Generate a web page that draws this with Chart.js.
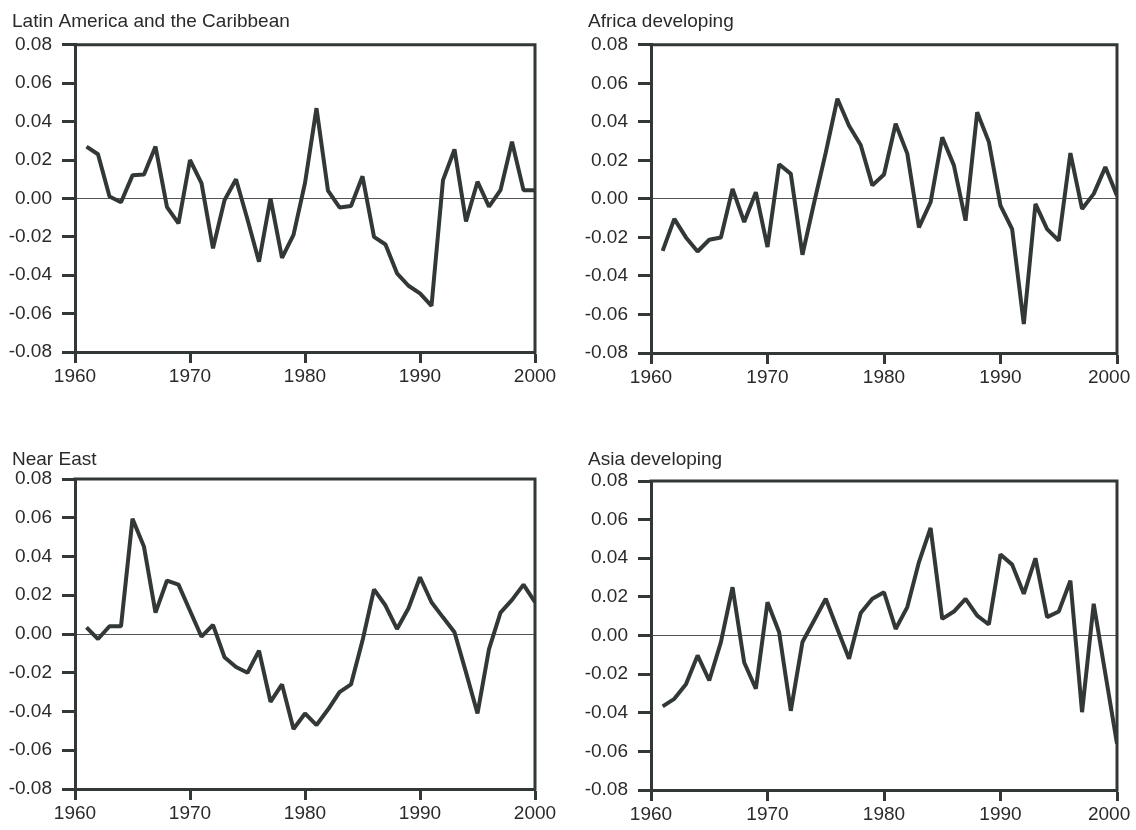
<!DOCTYPE html>
<html>
<head>
<meta charset="utf-8">
<script src="https://cdn.jsdelivr.net/npm/chart.js@4.4.1/dist/chart.umd.min.js"></script>
<style>
  body { margin: 0; background: #fff; overflow: hidden; }
  canvas { position: absolute; }
</style>
</head>
<body>
<canvas id="latin" width="568" height="415" style="left:0px;top:0px"></canvas>
<canvas id="africa" width="560" height="415" style="left:576px;top:0px"></canvas>
<canvas id="neareast" width="568" height="392" style="left:0px;top:438px"></canvas>
<canvas id="asia" width="560" height="392" style="left:576px;top:438px"></canvas>
<script>
// Years on the x axis
const years = [1961, 1962, 1963, 1964, 1965, 1966, 1967, 1968, 1969, 1970,
               1971, 1972, 1973, 1974, 1975, 1976, 1977, 1978, 1979, 1980,
               1981, 1982, 1983, 1984, 1985, 1986, 1987, 1988, 1989, 1990,
               1991, 1992, 1993, 1994, 1995, 1996, 1997, 1998, 1999, 2000];

// Values
const latinAmerica = [0.027, 0.023, 0.001, -0.002, 0.012, 0.0125, 0.027, -0.0045, -0.013, 0.020,
                      0.008, -0.026, -0.001, 0.010, -0.011, -0.033, 0.000, -0.031, -0.019, 0.008,
                      0.047, 0.004, -0.0047, -0.004, 0.0115, -0.020, -0.024, -0.039, -0.0455, -0.0495,
                      -0.056, 0.0095, 0.0255, -0.012, 0.0087, -0.0043, 0.0043, 0.0295, 0.0043, 0.0043];
const africa = [-0.027, -0.0104, -0.020, -0.0273, -0.0212, -0.020, 0.0052, -0.012, 0.0035, -0.025,
                0.018, 0.013, -0.029, -0.002, 0.024, 0.052, 0.038, 0.028, 0.007, 0.0127,
                0.039, 0.0235, -0.0148, -0.0017, 0.032, 0.0174, -0.0113, 0.045, 0.0296, -0.0035,
                -0.0157, -0.065, -0.0026, -0.0157, -0.0217, 0.0238, -0.0052, 0.0026, 0.0165, 0.0017];
const nearEast = [0.0034, -0.0026, 0.004, 0.004, 0.0595, 0.045, 0.011, 0.0276, 0.0255, 0.012,
                  -0.0014, 0.0047, -0.012, -0.017, -0.020, -0.0086, -0.035, -0.026, -0.049, -0.041,
                  -0.047, -0.039, -0.030, -0.026, -0.0034, 0.023, 0.0147, 0.0026, 0.0133, 0.0293,
                  0.0164, 0.0086, 0.0009, -0.0198, -0.041, -0.0078, 0.011, 0.0176, 0.0255, 0.0164];
const asia = [-0.0367, -0.0328, -0.0253, -0.0103, -0.0233, -0.0034, 0.025, -0.014, -0.0276, 0.0172,
              0.0017, -0.039, -0.0034, 0.0078, 0.019, 0.0034, -0.012, 0.0116, 0.019, 0.0224,
              0.0034, 0.0147, 0.038, 0.0557, 0.0086, 0.0124, 0.019, 0.0103, 0.0057, 0.042,
              0.0367, 0.0216, 0.040, 0.0095, 0.0124, 0.0284, -0.0397, 0.0164, -0.0198, -0.056];

// Tick labels
const xTicks = [1960, 1970, 1980, 1990, 2000];
const yTicks = [-0.08, -0.06, -0.04, -0.02, 0, 0.02, 0.04, 0.06, 0.08];

const INK = '#323737';
const TEXT = '#2a2a2a';

Chart.defaults.font.family = '"Liberation Sans", Arial, sans-serif';
Chart.defaults.font.size = 19;
Chart.defaults.color = TEXT;

// top and right edges of the box round each plot
const framePlugin = {
    id: 'frame',
    afterDraw(chart) {
        const { ctx, chartArea: a } = chart;
        ctx.save();
        ctx.strokeStyle = INK;
        ctx.lineWidth = 3;
        ctx.lineCap = 'square';
        ctx.beginPath();
        ctx.moveTo(a.left, a.top);
        ctx.lineTo(a.right, a.top);
        ctx.lineTo(a.right, a.bottom);
        ctx.stroke();
        ctx.restore();
    }
};

// nudge: trailing spaces push the last year label left when it sits at the page edge
function makePanel(id, title, values, titlePad, pad, nudge) {
    new Chart(document.getElementById(id).getContext('2d'), {
        type: 'line',
        data: {
            datasets: [{
                data: years.map((yr, i) => ({ x: yr, y: values[i] })),
                borderColor: INK,
                borderWidth: 4,
                borderJoinStyle: 'bevel',
                pointRadius: 0,
                tension: 0,
                fill: false
            }]
        },
        plugins: [framePlugin],
        options: {
            responsive: false,
            animation: false,
            devicePixelRatio: 1,
            layout: { padding: pad },
            plugins: {
                legend: { display: false },
                tooltip: { enabled: false },
                title: {
                    display: true,
                    text: title,
                    align: 'start',
                    color: TEXT,
                    font: { size: 19, weight: 'normal' },
                    padding: titlePad
                }
            },
            scales: {
                x: {
                    type: 'linear',
                    min: 1960,
                    max: 2000,
                    afterBuildTicks: s => { s.ticks = xTicks.map(v => ({ value: v })); },
                    afterFit: s => { s.height = 40; s.paddingRight = 0; },
                    border: { color: INK, width: 3 },
                    grid: { drawOnChartArea: false, tickLength: 11, tickWidth: 3, tickColor: INK },
                    ticks: {
                        padding: 2, maxRotation: 0, autoSkip: false,
                        callback: v => (v === 2000 && nudge) ? v + '   ' : String(v)
                    }
                },
                y: {
                    min: -0.08,
                    max: 0.08,
                    afterBuildTicks: s => { s.ticks = yTicks.map(v => ({ value: v })); },
                    afterFit: s => {
                        s.width = 63;
                        // the minus signs stick out past the axis box; don't clip them
                        s._computeLabelArea = () => undefined;
                    },
                    border: { color: INK, width: 3 },
                    grid: {
                        drawOnChartArea: true,
                        lineWidth: 1,
                        color: c => (c.tick && c.tick.value === 0) ? '#555' : 'rgba(0,0,0,0)',
                        tickLength: 13,
                        tickWidth: 3,
                        tickColor: INK
                    },
                    ticks: { padding: 10, autoSkip: false, callback: v => v.toFixed(2) }
                }
            }
        }
    });
}

makePanel('latin', 'Latin America and the Caribbean', latinAmerica,
          { top: 10, bottom: 12 }, { left: 12, right: 33, top: 0, bottom: 23 }, false);
makePanel('africa', 'Africa developing', africa,
          { top: 10, bottom: 12 }, { left: 12, right: 19, top: 0, bottom: 22 }, true);
makePanel('neareast', 'Near East', nearEast,
          { top: 10.5, bottom: 7.7 }, { left: 12, right: 33, top: 0, bottom: 1 }, false);
makePanel('asia', 'Asia developing', asia,
          { top: 10.5, bottom: 9.7 }, { left: 12, right: 19, top: 0, bottom: 0 }, true);
</script>
</body>
</html>
